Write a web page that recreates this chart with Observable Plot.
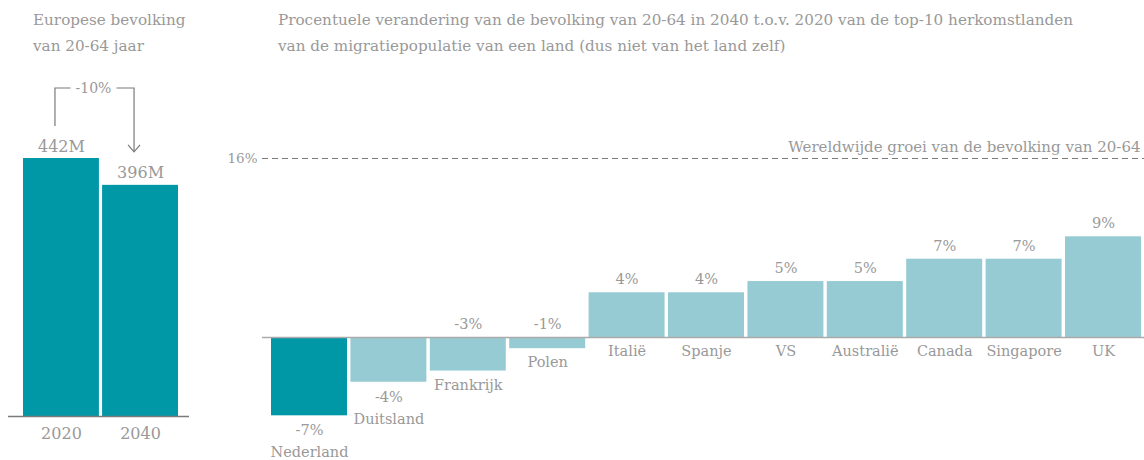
<!DOCTYPE html>
<html><head><meta charset="utf-8">
<script src="https://cdn.jsdelivr.net/npm/d3@7"></script>
<script src="https://cdn.jsdelivr.net/npm/@observablehq/plot@0.6"></script>
<style>
  body { margin:0; background:#fff; font-family: "DejaVu Serif", serif; }
  #wrap { position:relative; width:1144px; height:460px; }
  #wrap > div.plot { position:absolute; left:0; top:0; }
  .title { position:absolute; color:#999; font-size:15.2px; line-height:26px; white-space:nowrap; }
</style>
</head><body>
<div id="wrap">
  <div class="plot" id="left"></div>
  <div class="plot" id="right"></div>
  <div class="title" style="left:33px;top:7px">Europese bevolking<br>van 20-64 jaar</div>
  <div class="title" style="left:278px;top:7px">Procentuele verandering van de bevolking van 20-64 in 2040 t.o.v. 2020 van de top-10 herkomstlanden<br>van de migratiepopulatie van een land (dus niet van het land zelf)</div>
</div>
<script>
// ---- data ----
const years = ["2020", "2040"];
const population = [442, 396];           // millions
const changeLabel = "-10%";
const countries = ["Nederland","Duitsland","Frankrijk","Polen","Italië","Spanje","VS","Australië","Canada","Singapore","UK"];
const changes = [-7, -4, -3, -1, 4, 4, 5, 5, 7, 7, 9];  // percent
const worldGrowth = 16;
const worldLabel = "Wereldwijde groei van de bevolking van 20-64";
const highlight = "Nederland";

const dark = "#0097a7", light = "#97cbd4", grey = "#999", lineGrey = "#7a7a7a", zeroGrey = "#aaa";
const font = "'DejaVu Serif', serif";
const popData = years.map((y, i) => ({year: y, value: population[i]}));
const chgData = countries.map((c, i) => ({country: c, value: changes[i]}));

// bracket annotation drawn from the scales
function bracket(index, scales) {
  const x = scales.x, y = scales.y;
  const bw = x.bandwidth ? x.bandwidth() : 0;
  const xa = x(years[0]) + bw / 2 - 6;
  const xb = x(years[1]) + bw / 2 - 6;
  const yTop = y(population[0]) - 70;
  const yA = y(population[0]) - 32;
  const yB = y(population[1]) - 33;
  const xm = (xa + xb) / 2 - 1;
  const g = d3.create("svg:g").attr("fill", "none").attr("stroke", lineGrey).attr("stroke-width", 1.2);
  g.append("path").attr("d", `M${xa},${yA}V${yTop}H${xm - 23}`);
  g.append("path").attr("d", `M${xm + 23},${yTop}H${xb}V${yB}`);
  g.append("path").attr("d", `M${xb - 6},${yB - 7}L${xb},${yB}L${xb + 6},${yB - 7}`);
  g.append("text").attr("x", xm).attr("y", yTop).attr("dy", "0.35em").attr("text-anchor", "middle")
    .attr("fill", grey).attr("stroke", "none").attr("font-size", 14).text(changeLabel);
  return g.node();
}

const left = Plot.plot({
  width: 1144, height: 460,
  marginLeft: 8, marginRight: 1144 - 189, marginTop: 0, marginBottom: 44,
  style: {fontFamily: font, fontSize: "14px", color: grey, background: "transparent", overflow: "visible"},
  x: {domain: years, range: [23, 178], paddingInner: 0.04, paddingOuter: 0, round: false, axis: null},
  y: {domain: [0, population[0]], range: [416, 158], axis: null},
  marks: [
    Plot.barY(popData, {x: "year", y: "value", fill: dark}),
    Plot.ruleY([0], {stroke: lineGrey, strokeWidth: 1.5}),
    Plot.text(popData, {x: "year", y: "value", text: d => d.value + "M", dy: -12, fontSize: 16, fill: grey}),
    Plot.text(popData, {x: "year", y: 0, text: "year", dy: 17, fontSize: 16, fill: grey}),
    bracket
  ]
});
document.getElementById("left").appendChild(left);

const right = Plot.plot({
  width: 1144, height: 460,
  marginLeft: 262, marginRight: 0, marginTop: 0, marginBottom: 0,
  style: {fontFamily: font, fontSize: "14px", color: grey, background: "transparent", overflow: "visible"},
  x: {domain: countries, range: [271, 1141], paddingInner: 0.043, paddingOuter: 0, round: false, axis: null},
  y: {domain: [0, worldGrowth], range: [337, 158], axis: null},
  marks: [
    Plot.barY(chgData, {x: "country", y: "value", fill: d => d.country === highlight ? dark : light}),
    Plot.ruleY([0], {stroke: zeroGrey, strokeWidth: 1.5}),
    Plot.ruleY([worldGrowth], {stroke: lineGrey, strokeWidth: 1, strokeDasharray: "6,4"}),
    Plot.text([worldGrowth], {y: d => d, text: d => d + "%", frameAnchor: "left", textAnchor: "end", dx: -5, fontSize: 13.5, fill: grey}),
    Plot.text([worldLabel], {y: [worldGrowth], text: d => d, frameAnchor: "right", textAnchor: "end", dx: -4, dy: -11, fontSize: 15, fill: grey}),
    // value labels
    Plot.text(chgData, {x: "country", y: d => Math.max(d.value, 0), text: d => d.value + "%", fontSize: 14.5, fill: grey,
      filter: d => d.value >= -3, dy: -13}),
    Plot.text(chgData, {x: "country", y: "value", text: d => d.value + "%", fontSize: 14.5, fill: grey,
      filter: d => d.value < -3, dy: 15}),
    // country names
    Plot.text(chgData, {x: "country", y: d => Math.min(d.value, 0), text: "country", fontSize: 14.5, fill: grey,
      filter: d => d.value >= -3, dy: 14}),
    Plot.text(chgData, {x: "country", y: "value", text: "country", fontSize: 14.5, fill: grey,
      filter: d => d.value < -3, dy: 37})
  ]
});
document.getElementById("right").appendChild(right);
</script>
</body></html>
